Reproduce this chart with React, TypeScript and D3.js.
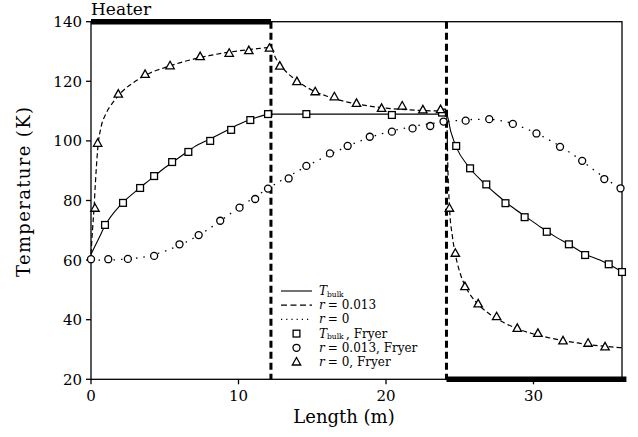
import React from "react";
import * as d3 from "d3";

// Model curves (length in m, temperature in K)
const bulkLine: [number, number][] = [
  [0, 62], [0.5, 67], [1, 72], [2, 78.5], [3, 83], [4, 87], [5, 91], [6, 94.5], [7, 98],
  [8, 100.5], [9, 103], [10, 105.5], [11, 107.5], [12.2, 109], [24.1, 109], [24.4, 103],
  [24.8, 97.5], [25.5, 92], [26.5, 86.5], [27.5, 82], [28.5, 78], [29.5, 74.5], [30.5, 71],
  [31.5, 67.8], [32.5, 65], [33.5, 62], [34.5, 60], [35.5, 57.5], [36, 56],
];

const r013Line: [number, number][] = [
  [0, 60], [1, 60], [2, 60.2], [3, 60.6], [4, 61.5], [5, 63], [6, 65], [7, 67.5], [8, 70.5],
  [9, 74], [10, 77.5], [11, 80.8], [12, 84], [13, 87], [14, 89.8], [15, 92.5], [16, 95],
  [17, 97.3], [18, 99.5], [19, 101.3], [20, 102.8], [21, 104], [22, 105], [23, 105.8],
  [24, 106.4], [25, 106.9], [26, 107.2], [27, 107.2], [28, 106.6], [29, 105], [30, 103],
  [31, 100.5], [32, 97.6], [33, 94.3], [34, 90.6], [35, 87], [36, 83.5],
];

const r0Line: [number, number][] = [
  [0, 62], [0.1, 70], [0.2, 77], [0.3, 86], [0.45, 97], [0.7, 105], [1, 109], [1.5, 113],
  [2, 116], [3, 120], [4, 122.8], [5, 124.6], [6, 126.2], [7, 127.5], [8, 128.6], [9, 129.5],
  [10, 130.2], [11, 130.8], [12.2, 131.3], [12.5, 128], [13, 124.5], [14, 120], [15, 117],
  [16, 115], [17, 113.5], [18, 112.4], [19, 111.6], [20, 111], [21, 110.6], [22, 110.3],
  [23, 110.1], [24.1, 110], [24.2, 90], [24.3, 78], [24.5, 68], [24.7, 62], [25, 56],
  [25.4, 51], [26, 46.5], [27, 42], [28, 39], [29, 36.8], [30, 35.2], [31, 34], [32, 33],
  [33, 32.2], [34, 31.5], [35, 31], [36, 30.6],
];

// Fryer reference points
const bulkFryer: [number, number][] = [
  [0.95, 71.8], [2.17, 79.2], [3.33, 84.2], [4.28, 88.2], [5.5, 92.9], [6.6, 96.3],
  [8.08, 100], [9.5, 103.7], [10.8, 107], [12.0, 109], [14.6, 109], [20.4, 108.7],
  [23.8, 109.5], [24.76, 98.3], [25.7, 90.8], [26.8, 85.4], [28.1, 79.1], [29.4, 74.4],
  [30.9, 69.5], [32.4, 65.3], [33.5, 61.7], [35.1, 58.6], [36, 56],
];

const r013Fryer: [number, number][] = [
  [0, 60.3], [1.17, 60.3], [2.5, 60.4], [4.28, 61.4], [6.0, 65.3], [7.3, 68.4], [8.76, 73.2],
  [10.07, 77.6], [11.13, 80.5], [12.0, 84], [13.4, 87.4], [14.6, 91.6], [16.2, 95.8],
  [17.4, 98.3], [18.9, 101.4], [20.4, 103.1], [21.8, 104.2], [23.0, 105], [23.9, 106.5],
  [25.4, 106.8], [27.0, 107.3], [28.6, 105.7], [30.2, 102.5], [31.8, 98], [33.3, 93.3],
  [34.8, 87.2], [35.9, 84.1],
];

const r0Fryer: [number, number][] = [
  [0.27, 77.4], [0.45, 99.2], [1.85, 115.7], [3.67, 122.3], [5.36, 125.2], [7.4, 128.3],
  [9.37, 129.4], [10.7, 130.3], [12.1, 131.1], [12.8, 125.1], [13.96, 119.9], [15.2, 116.5],
  [16.5, 114.8], [18.0, 112.6], [19.7, 110.9], [21.1, 111.7], [22.5, 110.4], [23.7, 110.5],
  [24.3, 77.4], [24.7, 62.3], [25.35, 51.1], [26.25, 45.3], [27.5, 41], [28.9, 37.1],
  [30.3, 35.4], [32.0, 32.9], [33.7, 32.1], [34.85, 30.9],
];

const xTicks = [0, 10, 20, 30];
const yTicks = [20, 40, 60, 80, 100, 120, 140];
const heaterSpans: [number, number, "top" | "bottom"][] = [
  [0, 12.2, "top"],
  [24.1, 36.3, "bottom"],
];
const boundaries = [12.2, 24.1];

// legend entries: [symbol kind, math symbol, subscript, rest of label]
const legendEntries: [string, string, string, string][] = [
  ["solid", "T", "bulk", ""],
  ["dashed", "r", "", " = 0.013"],
  ["dotted", "r", "", " = 0"],
  ["square", "T", "bulk", ", Fryer"],
  ["circle", "r", "", " = 0.013, Fryer"],
  ["tri", "r", "", " = 0, Fryer"],
];

const W = 638;
const H = 437;
const left = 91;
const right = 622;
const top = 21.7;
const bottom = 379.3;
const FONT = "'DejaVu Serif', serif";

export default function App() {
  const x = d3.scaleLinear().domain([0, 36]).range([left, right]);
  const y = d3.scaleLinear().domain([20, 140]).range([bottom, top]);
  const line = d3
    .line<[number, number]>()
    .x((d) => x(d[0]))
    .y((d) => y(d[1]))
    .curve(d3.curveMonotoneX);

  const square = (cx: number, cy: number, k: string) => (
    <rect key={k} x={cx - 3.4} y={cy - 3.4} width={6.8} height={6.8} fill="white" stroke="black" strokeWidth={1.3} />
  );
  const circle = (cx: number, cy: number, k: string) => (
    <circle key={k} cx={cx} cy={cy} r={3.5} fill="white" stroke="black" strokeWidth={1.3} />
  );
  const tri = (cx: number, cy: number, k: string) => (
    <path
      key={k}
      d={`M${cx},${cy - 4.5}L${cx + 4.2},${cy + 3}L${cx - 4.2},${cy + 3}Z`}
      fill="white"
      stroke="black"
      strokeWidth={1.3}
    />
  );

  const legX0 = 281;
  const legX1 = 312;
  const legText = 319;
  const legY0 = 291;
  const legDy = 14.2;
  const legFont = 12;

  return (
    <svg
      width={W}
      height={H}
      style={{ position: "absolute", left: 0, top: 0, background: "white" }}
      fontFamily={FONT}
    >
      <rect x={0} y={0} width={W} height={H} fill="white" />

      {/* frame */}
      <rect x={left} y={top} width={right - left} height={bottom - top} fill="none" stroke="black" strokeWidth={1.3} />

      {/* heater bars */}
      {heaterSpans.map(([a, b, side], i) => (
        <line
          key={`h${i}`}
          x1={x(a)}
          x2={x(b)}
          y1={side === "top" ? top : bottom}
          y2={side === "top" ? top : bottom}
          stroke="black"
          strokeWidth={5.5}
        />
      ))}

      {/* heater boundaries */}
      {boundaries.map((b, i) => (
        <line
          key={`b${i}`}
          x1={x(b)}
          x2={x(b)}
          y1={top}
          y2={bottom}
          stroke="black"
          strokeWidth={3}
          strokeDasharray="7 4"
        />
      ))}

      {/* axes ticks */}
      {yTicks.map((t) => (
        <g key={`y${t}`}>
          <line x1={left - 5} x2={left} y1={y(t)} y2={y(t)} stroke="black" strokeWidth={1.3} />
          <text x={left - 9} y={y(t) + 5.5} textAnchor="end" fontSize={15}>
            {t}
          </text>
        </g>
      ))}
      {xTicks.map((t) => (
        <g key={`x${t}`}>
          <line x1={x(t)} x2={x(t)} y1={bottom} y2={bottom + 5} stroke="black" strokeWidth={1.3} />
          <text x={x(t)} y={bottom + 22} textAnchor="middle" fontSize={15}>
            {t}
          </text>
        </g>
      ))}

      <text x={left} y={15} fontSize={17}>Heater</text>
      <text x={344} y={423} textAnchor="middle" fontSize={18}>Length (m)</text>
      <text
        transform={`translate(30,192) rotate(-90)`}
        textAnchor="middle"
        fontSize={18}
        textLength={170}
        lengthAdjust="spacing"
      >
        Temperature (K)
      </text>

      {/* model curves */}
      <path d={line(bulkLine) ?? ""} fill="none" stroke="black" strokeWidth={1.1} />
      <path d={line(r0Line) ?? ""} fill="none" stroke="black" strokeWidth={1.2} strokeDasharray="5 3" />
      <path d={line(r013Line) ?? ""} fill="none" stroke="black" strokeWidth={1.3} strokeDasharray="1.5 6" />

      {/* Fryer points */}
      {bulkFryer.map((d, i) => square(x(d[0]), y(d[1]), `s${i}`))}
      {r013Fryer.map((d, i) => circle(x(d[0]), y(d[1]), `c${i}`))}
      {r0Fryer.map((d, i) => tri(x(d[0]), y(d[1]), `t${i}`))}

      {/* legend */}
      {legendEntries.map(([kind, sym, sub, rest], i) => {
        const ly = legY0 + i * legDy;
        const mid = (legX0 + legX1) / 2;
        let mark: React.ReactNode = null;
        if (kind === "solid")
          mark = <line x1={legX0} x2={legX1} y1={ly} y2={ly} stroke="black" strokeWidth={1.1} />;
        else if (kind === "dashed")
          mark = <line x1={legX0} x2={legX1} y1={ly} y2={ly} stroke="black" strokeWidth={1.2} strokeDasharray="6 3.5" />;
        else if (kind === "dotted")
          mark = <line x1={legX0} x2={legX1} y1={ly} y2={ly} stroke="black" strokeWidth={1.2} strokeDasharray="1.2 4" />;
        else if (kind === "square") mark = square(mid, ly, "ls");
        else if (kind === "circle") mark = circle(mid, ly, "lc");
        else mark = tri(mid, ly, "lt");
        const symW = sub ? 8 : 5;
        const subW = sub ? 19 : 0;
        return (
          <g key={`l${i}`}>
            {mark}
            <text x={legText} y={ly + 4} fontSize={legFont} fontStyle="italic">
              {sym}
            </text>
            {sub && (
              <text x={legText + symW} y={ly + 5.5} fontSize={7.5}>
                {sub}
              </text>
            )}
            {rest && (
              <text x={legText + symW + subW} y={ly + 4} fontSize={legFont} style={{ whiteSpace: "pre" }}>
                {rest}
              </text>
            )}
          </g>
        );
      })}
    </svg>
  );
}
